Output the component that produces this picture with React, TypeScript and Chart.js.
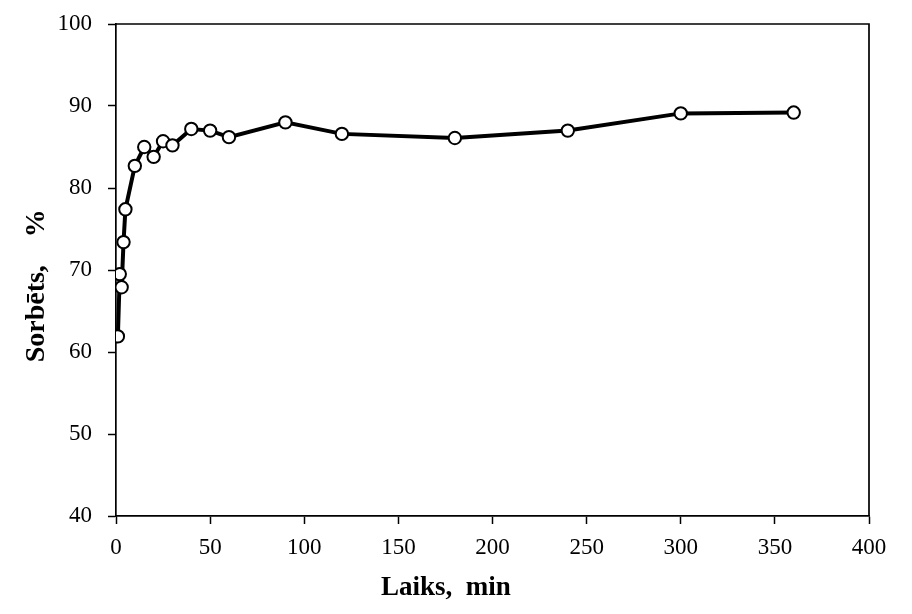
import React, { useEffect, useRef } from "react";
import { Chart, registerables } from "chart.js";

Chart.register(...registerables);

const timeMin = [1, 2, 3, 4, 5, 10, 15, 20, 25, 30, 40, 50, 60, 90, 120, 180, 240, 300, 360];
const sorbedPct = [61.9, 69.5, 67.9, 73.4, 77.4, 82.7, 85.0, 83.8, 85.7, 85.2, 87.2, 87.0, 86.2, 88.0, 86.6, 86.1, 87.0, 89.1, 89.2];
const xTitle = "Laiks,  min";
const yTitle = "Sorbēts,    %";

const framePlugin = {
  id: "frameAndTitles",
  afterDraw(chart: any) {
    const { ctx, chartArea } = chart;
    const { left, right, top, bottom } = chartArea;
    ctx.save();
    ctx.strokeStyle = "#000";
    ctx.lineWidth = 1.7;
    ctx.beginPath();
    ctx.moveTo(left, top);
    ctx.lineTo(right, top);
    ctx.lineTo(right, bottom);
    ctx.stroke();

    ctx.fillStyle = "#000";
    ctx.textAlign = "center";
    ctx.textBaseline = "middle";
    const w = right - left;
    const h = bottom - top;
    ctx.font = "bold 27px 'Liberation Serif'";
    ctx.fillText(xTitle, left + w * 0.438, 588);
    ctx.font = "bold 28px 'Liberation Serif'";
    ctx.translate(37, top + h * 0.532);
    ctx.rotate(-Math.PI / 2);
    ctx.fillText(yTitle, 0, 0);
    ctx.restore();
  },
};

export default function App() {
  const ref = useRef<HTMLCanvasElement | null>(null);
  useEffect(() => {
    if (!ref.current) return;
    const tickFont = { family: "'Liberation Serif'", size: 23 };
    const chart = new Chart(ref.current, {
      type: "line",
      data: {
        datasets: [
          {
            data: timeMin.map((x, i) => ({ x, y: sorbedPct[i] })),
            borderColor: "#000",
            borderWidth: 4,
            tension: 0,
            pointRadius: 6.2,
            pointBorderWidth: 2,
            pointBackgroundColor: "#fff",
            pointBorderColor: "#000",
          },
        ],
      },
      options: {
        animation: false,
        responsive: false,
        events: [],
        layout: { padding: { top: 24, right: 43, left: 0, bottom: 0 } },
        plugins: { legend: { display: false }, tooltip: { enabled: false } },
        scales: {
          x: {
            type: "linear",
            min: 0,
            max: 400,
            ticks: { stepSize: 50, color: "#000", font: tickFont, padding: 10, maxRotation: 0 },
            grid: { drawOnChartArea: false, drawTicks: true, tickLength: 8, tickColor: "#000", tickWidth: 1.5 },
            border: { display: true, color: "#000", width: 1.7 },
            afterFit: (s: any) => {
              s.height = 98;
              s.paddingLeft = 0;
              s.paddingRight = 0;
            },
          },
          y: {
            type: "linear",
            min: 40,
            max: 100,
            ticks: { stepSize: 10, color: "#000", font: tickFont, padding: 16 },
            grid: { drawOnChartArea: false, drawTicks: true, tickLength: 8, tickColor: "#000", tickWidth: 1.5 },
            border: { display: true, color: "#000", width: 1.7 },
            afterFit: (s: any) => {
              s.width = 116;
              s.paddingTop = 0;
              s.paddingBottom = 0;
            },
          },
        },
      },
      plugins: [framePlugin],
    });
    return () => chart.destroy();
  }, []);
  return (
    <div style={{ position: "fixed", left: 0, top: 0, width: 912, height: 614, background: "#fff" }}>
      <canvas ref={ref} width={912} height={614} style={{ display: "block" }} />
    </div>
  );
}
